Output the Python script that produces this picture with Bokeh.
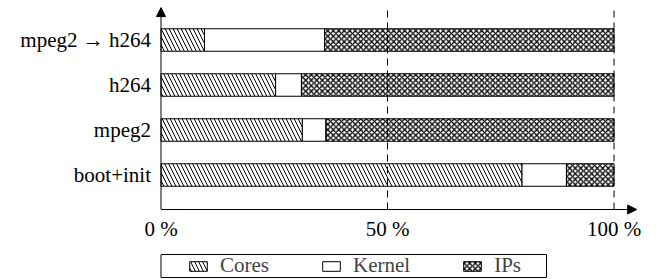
import numpy as np
from bokeh.plotting import figure
from bokeh.models import (ColumnDataSource, Range1d, Arrow, NormalHead, Legend, LegendItem,
                          BoxAnnotation)
from bokeh.core.properties import value
from bokeh.embed import file_html
from bokeh.resources import INLINE

# ---- data ----
categories = ["boot+init", "mpeg2", "h264", "mpeg2 \u2192 h264"]
cores = [79.7, 31.2, 25.3, 9.6]
kernel = [9.8, 5.2, 5.7, 26.5]
ips = [10.5, 63.6, 69.0, 63.9]
x_ticks = [0, 50, 100]
x_tick_labels = ["0 %", "50 %", "100 %"]
series_names = ["Cores", "Kernel", "IPs"]

FONT = "Liberation Serif"
FS = "21px"

y = list(range(len(categories)))
c1 = np.array(cores)
c2 = c1 + np.array(kernel)
c3 = c2 + np.array(ips)
src = ColumnDataSource(dict(y=y, l0=[0] * len(y), r0=c1, r1=c2, r2=c3))

# ranges chosen so that the axis frame sits like in the original
x_lo, x_hi = -35.43, 109.6
y_lo, y_hi = -2.322, 3.878
y_axis = -0.767        # position of the horizontal axis line
y_arrow_top = 3.72     # tip of the vertical axis arrow
x_arrow_end = 105      # tip of the horizontal axis arrow
y_grid_top = 3.656     # top of the dashed reference lines
legend_box = dict(left=0, right=85.1, top=-1.767, bottom=-2.278)  # frame around the legend

p = figure(width=657, height=279, output_backend="svg", toolbar_location=None,
           x_range=Range1d(x_lo, x_hi), y_range=Range1d(y_lo, y_hi),
           x_axis_location=None, y_axis_location=None,
           min_border_left=0, min_border_right=0, min_border_top=0, min_border_bottom=0)
p.outline_line_color = None
p.background_fill_color = "white"
p.border_fill_color = "white"
p.grid.visible = False

# dashed reference lines at 50 % and 100 %
gx = x_ticks[1:]
p.segment(x0=gx, y0=[y_axis] * len(gx), x1=gx, y1=[y_grid_top] * len(gx),
          line_color="black", line_width=1, line_dash="7 5")

h = 0.5
r_cores = p.hbar(y="y", left="l0", right="r0", height=h, source=src, fill_color=None,
                 line_color="black", line_width=1, hatch_pattern="left_diagonal_line",
                 hatch_color="black", hatch_scale=8, hatch_weight=1)
r_kernel = p.hbar(y="y", left="r0", right="r1", height=h, source=src, fill_color="white",
                  line_color="black", line_width=1)
r_ips = p.hbar(y="y", left="r1", right="r2", height=h, source=src, fill_color=None,
               line_color="black", line_width=1, hatch_pattern="diagonal_cross",
               hatch_color="black", hatch_scale=5.5, hatch_weight=1.3)

# category labels (left of the vertical axis)
p.text(x=[0] * len(y), y=y, text=categories, text_font=value(FONT), text_font_size=FS,
       text_color="black", text_align="right", text_baseline="middle", x_offset=-10)

# x tick labels under the horizontal axis
p.text(x=x_ticks, y=[y_axis] * len(x_ticks), text=x_tick_labels,
       text_font=value(FONT), text_font_size=FS, text_color="black",
       text_align="center", text_baseline="top", y_offset=7)

# axis lines with arrow heads
p.add_layout(Arrow(end=NormalHead(size=9, fill_color="black", line_color="black", line_width=1),
                   x_start=0, y_start=y_axis, x_end=0, y_end=y_arrow_top,
                   line_width=1, line_color="black"))
p.add_layout(Arrow(end=NormalHead(size=9, fill_color="black", line_color="black", line_width=1),
                   x_start=0, y_start=y_axis, x_end=x_arrow_end, y_end=y_axis,
                   line_width=1, line_color="black"))

# legend frame
p.add_layout(BoxAnnotation(**legend_box, fill_color=None, fill_alpha=0,
                           line_color="black", line_width=1, line_alpha=1))

legend = Legend(items=[LegendItem(label=series_names[0], renderers=[r_cores]),
                       LegendItem(label=series_names[1], renderers=[r_kernel]),
                       LegendItem(label=series_names[2], renderers=[r_ips])],
                orientation="horizontal", location=(187, 1),
                glyph_width=22, glyph_height=12, label_standoff=11, spacing=51,
                padding=0, margin=0, label_height=21,
                label_text_font=FONT, label_text_font_size=FS,
                border_line_color=None, background_fill_alpha=0)
p.add_layout(legend, "center")

open("out.html", "w").write(file_html(p, INLINE))
